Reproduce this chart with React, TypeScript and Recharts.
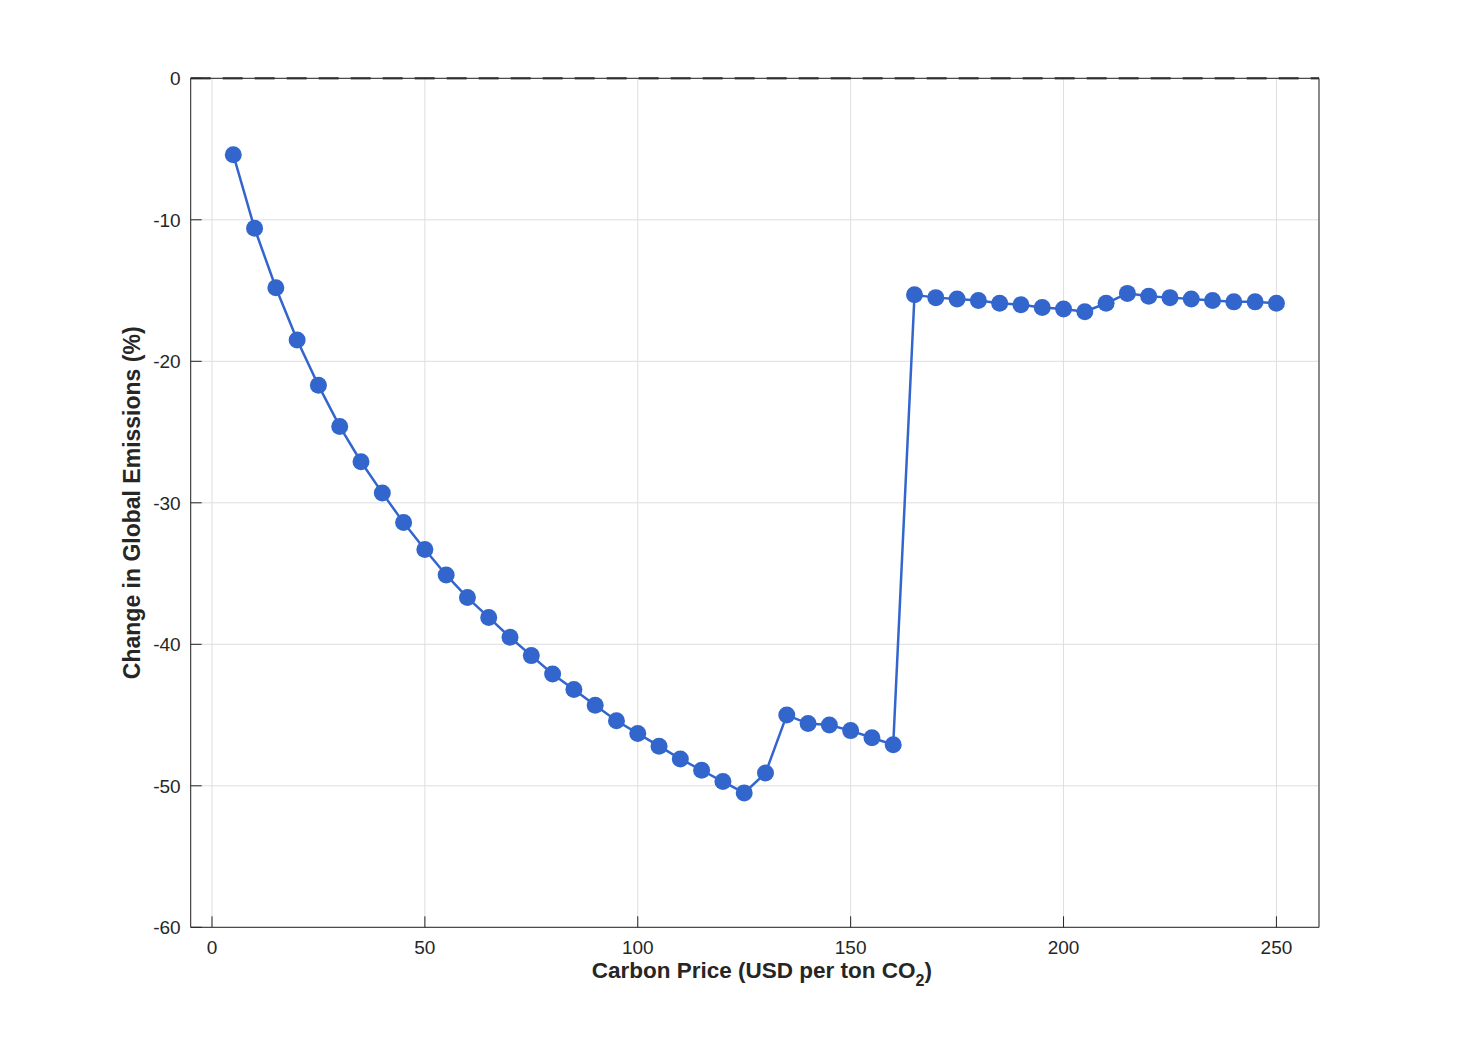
import React from 'react';
import {
  LineChart,
  Line,
  XAxis,
  YAxis,
  CartesianGrid,
  ReferenceLine,
  Label,
} from 'recharts';

// Carbon price scenarios (USD per ton CO2)
const PRICES = [
  5, 10, 15, 20, 25, 30, 35, 40, 45, 50,
  55, 60, 65, 70, 75, 80, 85, 90, 95, 100,
  105, 110, 115, 120, 125, 130, 135, 140, 145, 150,
  155, 160, 165, 170, 175, 180, 185, 190, 195, 200,
  205, 210, 215, 220, 225, 230, 235, 240, 245, 250,
];

// Change in global emissions (%)
const EMISSIONS_CHANGE = [
  -5.4, -10.6, -14.8, -18.5, -21.7, -24.6, -27.1, -29.3, -31.4, -33.3,
  -35.1, -36.7, -38.1, -39.5, -40.8, -42.1, -43.2, -44.3, -45.4, -46.3,
  -47.2, -48.1, -48.9, -49.7, -50.5, -49.1, -45.0, -45.6, -45.7, -46.1,
  -46.6, -47.1, -15.3, -15.5, -15.6, -15.7, -15.9, -16.0, -16.2, -16.3,
  -16.5, -15.9, -15.2, -15.4, -15.5, -15.6, -15.7, -15.8, -15.8, -15.9,
];

const X_TICKS = [0, 50, 100, 150, 200, 250];
const Y_TICKS = [-60, -50, -40, -30, -20, -10, 0];

const chartData = PRICES.map((p, i) => ({ price: p, change: EMISSIONS_CHANGE[i] }));

// layout
const WIDTH = 1440;
const HEIGHT = 1020;
const PLOT_LEFT = 182.7;
const PLOT_TOP = 70.3;
const PLOT_W = 1128.3;
const PLOT_H = 849;
const Y_AXIS_W = 60;
const X_AXIS_H = 70;
const EDGE = 10;

const AXIS_COLOR = '#262626';
const LINE_COLOR = '#3366cc';
const FONT = '"Liberation Sans", Arial, Helvetica, sans-serif';

const tickStyle = { fontSize: 19, fill: AXIS_COLOR, fontFamily: FONT };

function XTitle() {
  const cx = PLOT_LEFT + PLOT_W / 2 + 7;
  const y = PLOT_TOP + PLOT_H + 51;
  return (
    <text x={cx} y={y} textAnchor="middle" fontFamily={FONT} fontSize={22.5} fontWeight="bold" fill={AXIS_COLOR}>
      Carbon Price (USD per ton CO
      <tspan fontSize={16} dy={8}>2</tspan>
      <tspan dy={-8}>)</tspan>
    </text>
  );
}

function YTitle() {
  const cx = PLOT_LEFT - 58.7;
  const cy = PLOT_TOP + PLOT_H / 2;
  return (
    <text
      x={cx}
      y={cy}
      textAnchor="middle"
      dominantBaseline="central"
      transform={`rotate(-90, ${cx}, ${cy})`}
      fontFamily={FONT}
      fontSize={23}
      fontWeight="bold"
      fill={AXIS_COLOR}
    >
      Change in Global Emissions (%)
    </text>
  );
}

export default function App() {
  return (
    <div style={{ width: WIDTH, height: HEIGHT, background: '#fff' }}>
      <LineChart
        width={WIDTH}
        height={HEIGHT}
        data={chartData}
        margin={{
          left: PLOT_LEFT - Y_AXIS_W,
          top: PLOT_TOP - EDGE,
          right: WIDTH - PLOT_LEFT - PLOT_W - EDGE,
          bottom: HEIGHT - PLOT_TOP - PLOT_H - X_AXIS_H,
        }}
      >
        <CartesianGrid stroke="#dedede" strokeWidth={1} />
        <XAxis
          dataKey="price"
          type="number"
          domain={[-5, 260]}
          ticks={X_TICKS}
          interval={0}
          height={X_AXIS_H}
          tickSize={-11}
          tickMargin={24}
          tick={tickStyle}
          axisLine={{ stroke: AXIS_COLOR }}
          tickLine={{ stroke: AXIS_COLOR }}
        >
          <Label content={<XTitle />} />
        </XAxis>
        <XAxis
          xAxisId="top"
          orientation="top"
          dataKey="price"
          type="number"
          domain={[-5, 260]}
          ticks={X_TICKS}
          interval={0}
          height={EDGE}
          tickSize={-11}
          tick={false}
          axisLine={{ stroke: AXIS_COLOR }}
          tickLine={{ stroke: AXIS_COLOR }}
        />
        <YAxis
          type="number"
          domain={[-60, 0]}
          ticks={Y_TICKS}
          interval={0}
          width={Y_AXIS_W}
          tickSize={-11}
          tickMargin={21}
          tick={tickStyle}
          axisLine={{ stroke: AXIS_COLOR }}
          tickLine={{ stroke: AXIS_COLOR }}
        >
          <Label content={<YTitle />} />
        </YAxis>
        <YAxis
          yAxisId="right"
          orientation="right"
          type="number"
          domain={[-60, 0]}
          ticks={Y_TICKS}
          interval={0}
          width={EDGE}
          tickSize={-11}
          tick={false}
          axisLine={{ stroke: AXIS_COLOR }}
          tickLine={{ stroke: AXIS_COLOR }}
        />
        <ReferenceLine y={0} stroke="#5a5a5a" strokeWidth={2.5} strokeDasharray="20 12" />
        <Line
          dataKey="change"
          stroke={LINE_COLOR}
          strokeWidth={2.5}
          dot={{ r: 8.5, fill: LINE_COLOR, stroke: 'none' }}
          activeDot={false}
          isAnimationActive={false}
        />
      </LineChart>
    </div>
  );
}
